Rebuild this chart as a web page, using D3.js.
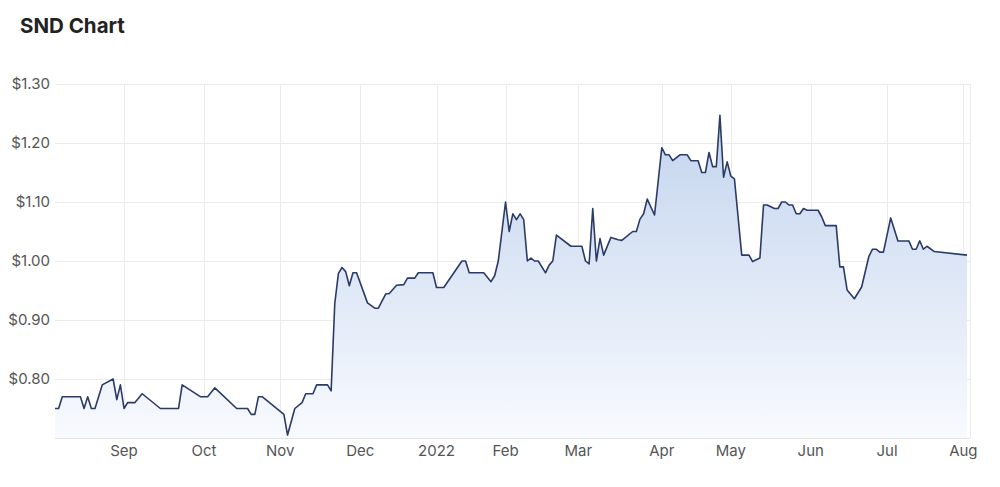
<!DOCTYPE html>
<html>
<head>
<meta charset="utf-8">
<script src="https://cdn.jsdelivr.net/npm/d3@7"></script>
<style>
  body { margin: 0; background: #fff; font-family: Inter, "Noto Sans", sans-serif; }
  svg { display: block; }
</style>
</head>
<body>
<script>
// trading session number (0 = first session, early Aug 2021) and close price
var sessions = [0, 1, 2, 7, 8, 9, 10, 11, 13, 16, 17, 18, 19, 20, 22, 24, 29, 34, 35, 40,
  42, 44, 50, 53, 54, 55, 56, 57, 63, 64, 66, 68, 69, 71, 72, 75, 76, 77, 78, 79,
  80, 81, 82, 83, 86, 88, 89, 91, 92, 94, 96, 97, 99, 100, 104, 105, 107, 112, 113, 114,
  118, 120, 121, 122, 124, 125, 126, 127, 128, 129, 130, 131, 132, 133, 135, 136, 137, 138, 142, 145,
  146, 147, 148, 149, 150, 151, 153, 155, 156, 159, 160, 161, 162, 163, 165, 167, 168, 169, 170, 172,
  174, 175, 177, 178, 179, 180, 181, 182, 183, 184, 185, 186, 187, 189, 191, 192, 194, 195, 196, 198,
  199, 200, 201, 202, 203, 204, 205, 206, 207, 210, 211, 212, 215, 216, 217, 218, 220, 222, 224, 225,
  226, 227, 228, 230, 232, 235, 236, 237, 238, 239, 240, 242, 251];
var prices = [0.75, 0.75, 0.77, 0.77, 0.75, 0.77, 0.75, 0.75, 0.79, 0.80, 0.765, 0.79, 0.75, 0.76, 0.76, 0.775, 0.75, 0.75, 0.79, 0.77,
  0.77, 0.785, 0.75, 0.75, 0.74, 0.74, 0.77, 0.77, 0.74, 0.705, 0.75, 0.76, 0.775, 0.775, 0.79, 0.79, 0.78, 0.928, 0.979, 0.989,
  0.982, 0.958, 0.98, 0.98, 0.929, 0.92, 0.92, 0.944, 0.945, 0.959, 0.96, 0.971, 0.971, 0.98, 0.98, 0.955, 0.955, 1.0, 1.0, 0.98,
  0.98, 0.965, 0.975, 1.0, 1.10, 1.05, 1.08, 1.07, 1.08, 1.07, 1.0, 1.005, 1.0, 1.0, 0.98, 0.993, 1.0, 1.044, 1.025, 1.025,
  1.0, 0.995, 1.089, 1.0, 1.038, 1.01, 1.04, 1.036, 1.035, 1.05, 1.05, 1.071, 1.08, 1.105, 1.078, 1.192, 1.18, 1.18, 1.17, 1.18,
  1.18, 1.17, 1.17, 1.15, 1.15, 1.184, 1.16, 1.16, 1.247, 1.142, 1.168, 1.144, 1.139, 1.01, 1.01, 0.999, 1.005, 1.095, 1.095, 1.089,
  1.089, 1.10, 1.10, 1.095, 1.095, 1.08, 1.08, 1.089, 1.086, 1.086, 1.075, 1.06, 1.06, 0.99, 0.99, 0.951, 0.936, 0.956, 1.008, 1.02,
  1.02, 1.015, 1.015, 1.073, 1.034, 1.034, 1.02, 1.02, 1.034, 1.02, 1.025, 1.016, 1.01];

// first session of each month
var monthTicks = [19, 41, 62, 84, 105, 124, 144, 167, 186, 208, 229, 250];
var monthLabels = ['Sep', 'Oct', 'Nov', 'Dec', '2022', 'Feb', 'Mar', 'Apr', 'May', 'Jun', 'Jul', 'Aug'];
var yTicks = [0.80, 0.90, 1.00, 1.10, 1.20, 1.30];

var width = 1000, height = 487;
var plotLeft = 55, plotRight = 970, plotTop = 84, plotBottom = 438;

var data = sessions.map(function(s, i){ return {s: s, v: prices[i]}; });

var x = d3.scaleLinear().domain([0, 251]).range([plotLeft, 967]);
var y = d3.scaleLinear().domain([0.70, 1.30]).range([plotBottom, plotTop]);

var svg = d3.select('body').append('svg')
    .attr('width', width)
    .attr('height', height);

svg.append('text')
    .attr('x', 20)
    .attr('y', 33)
    .attr('font-size', '20.5px')
    .attr('font-weight', 700)
    .attr('fill', '#222')
    .text('SND Chart');

var defs = svg.append('defs');
var grad = defs.append('linearGradient')
    .attr('id', 'fillGrad')
    .attr('gradientUnits', 'userSpaceOnUse')
    .attr('x1', 0).attr('x2', 0)
    .attr('y1', y(1.25)).attr('y2', plotBottom);
grad.append('stop').attr('offset', '0%').attr('stop-color', '#c3d4ee');
grad.append('stop').attr('offset', '100%').attr('stop-color', '#f8fafe');

// grid
var grid = svg.append('g');
grid.selectAll('line.h')
    .data(yTicks)
    .enter().append('line')
    .attr('class', 'h')
    .attr('x1', plotLeft).attr('x2', plotRight)
    .attr('y1', function(d){ return Math.round(y(d)) + 0.5; })
    .attr('y2', function(d){ return Math.round(y(d)) + 0.5; })
    .attr('stroke', '#ebebeb');
grid.selectAll('line.v')
    .data(monthTicks)
    .enter().append('line')
    .attr('class', 'v')
    .attr('x1', function(d){ return Math.round(x(d)) + 0.5; })
    .attr('x2', function(d){ return Math.round(x(d)) + 0.5; })
    .attr('y1', plotTop).attr('y2', plotBottom)
    .attr('stroke', '#ebebeb');
grid.append('line')
    .attr('x1', plotRight + 0.5).attr('x2', plotRight + 0.5)
    .attr('y1', plotTop).attr('y2', plotBottom)
    .attr('stroke', '#ebebeb');

var area = d3.area()
    .x(function(d){ return x(d.s); })
    .y0(plotBottom)
    .y1(function(d){ return y(d.v); });
var line = d3.line()
    .x(function(d){ return x(d.s); })
    .y(function(d){ return y(d.v); });

svg.append('path')
    .datum(data)
    .attr('d', area)
    .attr('fill', 'url(#fillGrad)');

svg.append('line')
    .attr('x1', plotLeft).attr('x2', plotRight)
    .attr('y1', plotBottom + 0.5).attr('y2', plotBottom + 0.5)
    .attr('stroke', '#e3e3e3');

svg.append('path')
    .datum(data)
    .attr('d', line)
    .attr('fill', 'none')
    .attr('stroke', '#2b3a66')
    .attr('stroke-width', 1.6)
    .attr('stroke-linejoin', 'round');

// axes labels
svg.append('g').selectAll('text')
    .data(yTicks)
    .enter().append('text')
    .attr('x', 50)
    .attr('y', function(d){ return y(d); })
    .attr('dy', '0.35em')
    .attr('text-anchor', 'end')
    .attr('font-size', '15px')
    .attr('fill', '#555')
    .text(function(d){ return '$' + d3.format('.2f')(d); });

svg.append('g').selectAll('text')
    .data(monthTicks)
    .enter().append('text')
    .attr('x', function(d){ return x(d); })
    .attr('y', 456)
    .attr('text-anchor', 'middle')
    .attr('font-size', '15px')
    .attr('fill', '#555')
    .text(function(d, i){ return monthLabels[i]; });
</script>
</body>
</html>
